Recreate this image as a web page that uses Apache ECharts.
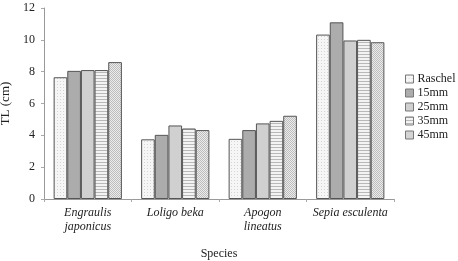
<!DOCTYPE html>
<html>
<head>
<meta charset="utf-8">
<script src="https://cdn.jsdelivr.net/npm/echarts@6/dist/echarts.min.js"></script>
<style>
  html, body { margin: 0; padding: 0; background: #fff; }
  #chart { width: 458px; height: 261px; }
</style>
</head>
<body>
<div id="chart"></div>
<script>
// Data
const species = ['Engraulis\njaponicus', 'Loligo beka', 'Apogon\nlineatus', 'Sepia esculenta'];
const meshes = ['Raschel', '15mm', '25mm', '35mm', '45mm'];
const raschel = [7.65, 3.75, 3.78, 10.33];
const mm15 = [8.05, 4.03, 4.33, 11.1];
const mm25 = [8.1, 4.62, 4.75, 9.96];
const mm35 = [8.1, 4.43, 4.91, 10.0];
const mm45 = [8.6, 4.33, 5.23, 9.85];
const yTicks = { min: 0, max: 12, interval: 2 };

const serif = '"Liberation Serif", "DejaVu Serif", serif';

// ---------- fill patterns ----------
function pattern(w, h, draw) {
  const c = document.createElement('canvas');
  c.width = w; c.height = h;
  draw(c.getContext('2d'));
  return c;
}

const fills = [
  // Raschel: pale dotted
  pattern(3, 3, (g) => {
    g.fillStyle = '#f6f6f6'; g.fillRect(0, 0, 3, 3);
    g.fillStyle = '#d4d4d4'; g.fillRect(0, 0, 1, 1);
  }),
  // 15mm: medium gray
  pattern(2, 2, (g) => { g.fillStyle = '#acacac'; g.fillRect(0, 0, 2, 2); }),
  // 25mm: light gray
  pattern(2, 2, (g) => { g.fillStyle = '#d0d0d0'; g.fillRect(0, 0, 2, 2); }),
  // 35mm: horizontal stripes
  pattern(4, 3, (g) => {
    g.fillStyle = '#f3f3f3'; g.fillRect(0, 0, 4, 3);
    g.fillStyle = '#b8b8b8'; g.fillRect(0, 0, 4, 1);
  }),
  // 45mm: fine checker dots
  pattern(2, 2, (g) => {
    g.fillStyle = '#ececec'; g.fillRect(0, 0, 2, 2);
    g.fillStyle = '#bdbdbd'; g.fillRect(0, 0, 1, 1); g.fillRect(1, 1, 1, 1);
  }),
];

const values = [raschel, mm15, mm25, mm35, mm45];

const chart = echarts.init(document.getElementById('chart'), null, { renderer: 'canvas' });
chart.setOption({
  animation: false,
  textStyle: { fontFamily: serif },
  grid: { left: 44, right: 64, top: 8, bottom: 62, containLabel: false, outerBoundsMode: 'none' },
  legend: {
    orient: 'vertical',
    left: 400,
    top: 68,
    itemWidth: 8,
    itemHeight: 8,
    itemGap: 2,
    icon: 'rect',
    itemStyle: { borderColor: '#777', borderWidth: 1 },
    textStyle: { fontFamily: serif, fontSize: 12, color: '#222', padding: [0, 0, 0, -1] },
    data: meshes,
  },
  xAxis: {
    type: 'category',
    data: species,
    axisLine: { lineStyle: { color: '#999', width: 1 } },
    axisTick: { show: true, length: 3, lineStyle: { color: '#aaa' } },
    axisLabel: {
      fontFamily: serif, fontStyle: 'italic', fontSize: 12, color: '#222',
      lineHeight: 14, margin: 7, interval: 0,
    },
    name: 'Species',
    nameLocation: 'middle',
    nameGap: 49,
    nameTextStyle: { fontFamily: serif, fontSize: 12, color: '#222' },
  },
  yAxis: {
    type: 'value',
    min: yTicks.min, max: yTicks.max, interval: yTicks.interval,
    axisLine: { show: true, lineStyle: { color: '#999', width: 1 } },
    axisTick: { show: true, length: 3, lineStyle: { color: '#aaa' } },
    axisLabel: { fontFamily: serif, fontSize: 12, color: '#222', margin: 9 },
    splitLine: { show: false },
    name: 'TL (cm)',
    nameLocation: 'middle',
    nameGap: 27,
    nameTextStyle: { fontFamily: serif, fontSize: 13, color: '#222' },
  },
  series: meshes.map((m, i) => ({
    name: m,
    type: 'bar',
    data: values[i],
    barGap: '0%',
    barCategoryGap: '22%',
    itemStyle: {
      color: { image: fills[i], repeat: 'repeat' },
      borderColor: '#555',
      borderWidth: 1,
    },
  })),
});
</script>
</body>
</html>
